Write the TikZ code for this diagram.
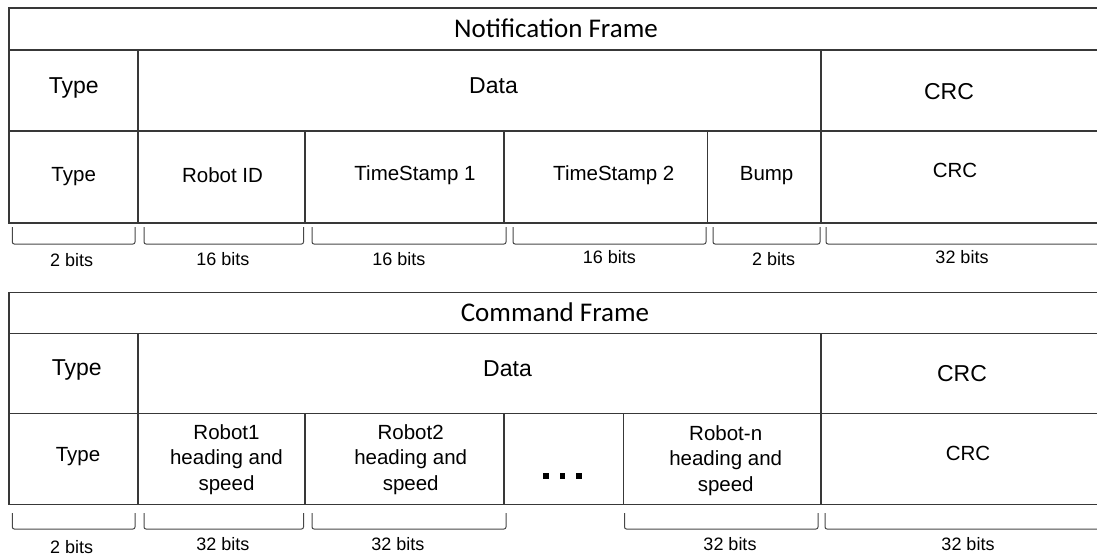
\documentclass[tikz,border=0pt]{standalone}
\usepackage{fontspec}
\setmainfont{Liberation Sans}
\newfontfamily\titlefont{Carlito}
\begin{document}
\begin{tikzpicture}[x=1pt,y=-1pt,
  grid/.style={draw=black!78, line width=1.2pt},
  brk/.style={draw=black!72, line width=1pt, rounded corners=2pt},
  ttl/.style={font=\titlefont\fontsize{27}{32}\selectfont, inner sep=0pt, anchor=base},
  big/.style={font=\fontsize{23}{27}\selectfont, inner sep=0pt, anchor=base},
  small/.style={font=\fontsize{20.5}{25.5}\selectfont, inner sep=0pt, anchor=base},
  multi/.style={font=\fontsize{20.5}{25.5}\selectfont, inner sep=0pt, align=center, anchor=center},
  bits/.style={font=\fontsize{18}{22}\selectfont, inner sep=0pt, anchor=base},
  dotsq/.style={fill=black, minimum size=5.5pt, inner sep=0pt}]
\useasboundingbox (0,0) rectangle (1097,556);

% ---------------- Notification frame ----------------
\draw[grid] (1100,8) -- (9,8) -- (9,223) -- (1100,223);
\draw[grid] (9,50) -- (1100,50);
\draw[grid] (9,131) -- (1100,131);
\draw[grid] (138,50) -- (138,223);
\draw[grid] (821,50) -- (821,223);
\draw[grid] (305,131) -- (305,223);
\draw[grid] (504,131) -- (504,223);
\draw[grid] (707.5,131) -- (707.5,223);

\node[ttl] (ntitle) at (556,37.3) {Notification Frame};
\node[big] (ntype) at (73.7,94) {Type};
\node[big] (ndata) at (493.5,93.3) {Data};
\node[big] (ncrc) at (949,99.3) {CRC};

\node[small] (ntype2) at (73.7,181.7) {Type};
\node[small] (nrid) at (222.5,182.7) {Robot ID};
\node[small] (nts1) at (415,181) {TimeStamp 1};
\node[small] (nts2) at (613.8,181) {TimeStamp 2};
\node[small] (nbump) at (766.6,181) {Bump};
\node[small] (ncrc2) at (955,177.7) {CRC};

\draw[brk] (12.3,227) -- (12.3,244) -- (135,244) -- (135,227);
\draw[brk] (144,227) -- (144,244) -- (303.5,244) -- (303.5,227);
\draw[brk] (312,227) -- (312,244) -- (506,244) -- (506,227);
\draw[brk] (513,227) -- (513,244) -- (706,244) -- (706,227);
\draw[brk] (713,227) -- (713,244) -- (820,244) -- (820,227);
\draw[brk] (826,227) -- (826,244) -- (1110,244);

\node[bits] (nb1) at (71.6,266.7) {2 bits};
\node[bits] (nb2) at (223,265) {16 bits};
\node[bits] (nb3) at (399,265) {16 bits};
\node[bits] (nb4) at (609.4,263.3) {16 bits};
\node[bits] (nb5) at (773.6,265) {2 bits};
\node[bits] (nb6) at (962,263.3) {32 bits};

% ---------------- Command frame ----------------
\draw[grid] (1100,292.3) -- (9,292.3) -- (9,504.3) -- (1100,504.3);
\draw[grid] (9,333.3) -- (1100,333.3);
\draw[grid] (9,413.3) -- (1100,413.3);
\draw[grid] (138,333.3) -- (138,504.3);
\draw[grid] (821,333.3) -- (821,504.3);
\draw[grid] (305,413.3) -- (305,504.3);
\draw[grid] (504,413.3) -- (504,504.3);
\draw[grid] (623.5,413.3) -- (623.5,504.3);

\node[ttl] (ctitle) at (555,321.7) {Command Frame};
\node[big] (ctype) at (76.8,375) {Type};
\node[big] (cdata) at (507.5,376.7) {Data};
\node[big] (ccrc) at (962,381.7) {CRC};

\node[small] (ctype2) at (78,461) {Type};
\node[multi] (cr1) at (226.5,459.5) {Robot1\\heading and\\speed};
\node[multi] (cr2) at (410.7,459.5) {Robot2\\heading and\\speed};
\node[dotsq] (d1) at (546,476) {};
\node[dotsq] (d2) at (562.5,476) {};
\node[dotsq] (d3) at (579,476) {};
\node[multi] (crn) at (725.7,460.5) {Robot-n\\heading and\\speed};
\node[small] (ccrc2) at (968,460) {CRC};

\draw[brk] (12.3,513) -- (12.3,529) -- (135,529) -- (135,513);
\draw[brk] (144,513) -- (144,529) -- (303.5,529) -- (303.5,513);
\draw[brk] (312,513) -- (312,529) -- (506,529) -- (506,513);
\draw[brk] (624.5,513) -- (624.5,529) -- (818,529) -- (818,513);
\draw[brk] (825,513) -- (825,529) -- (1110,529);

\node[bits] (cb1) at (71.6,553.3) {2 bits};
\node[bits] (cb2) at (223,550.7) {32 bits};
\node[bits] (cb3) at (398,550.7) {32 bits};
\node[bits] (cb4) at (730,550.7) {32 bits};
\node[bits] (cb5) at (968,550.7) {32 bits};
\end{tikzpicture}
\end{document}
